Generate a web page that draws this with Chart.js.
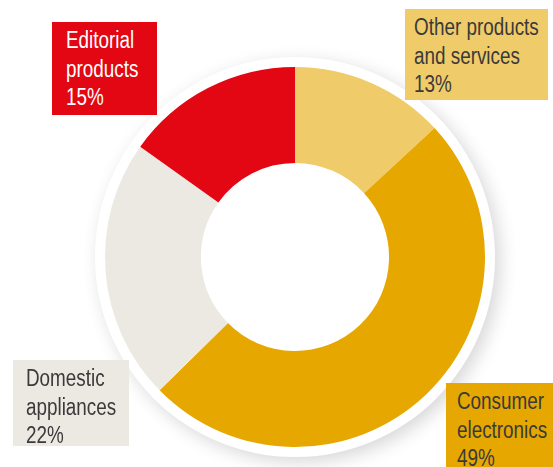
<!DOCTYPE html>
<html>
<head>
<meta charset="utf-8">
<script src="https://cdn.jsdelivr.net/npm/chart.js@4/dist/chart.umd.min.js"></script>
<style>
  html, body { margin: 0; padding: 0; background: #fff; }
  #wrap { position: relative; width: 553px; height: 467px; overflow: hidden; }
  #chart { position: absolute; left: 0; top: 0; }
  .lbl {
    position: absolute;
    box-sizing: border-box;
    font-family: "Liberation Sans", Arial, sans-serif;
    font-size: 23px;
    line-height: 28.5px;
    color: #3d3d3d;
    white-space: nowrap;
  }
  .lbl span {
    display: inline-block;
    transform: scaleX(0.82);
    transform-origin: left top;
  }
</style>
</head>
<body>
<div id="wrap">
  <canvas id="chart" width="553" height="467"></canvas>
</div>
<script>
// Dati del grafico (in senso orario dall'alto)
const categories = ['Other products and services', 'Consumer electronics', 'Domestic appliances', 'Editorial products'];
const shares = [13, 49, 22, 15];
const colors = ['#F0CB69', '#E6A800', '#ECE9E3', '#E30613'];
const labelLines = [
  ['Other products', 'and services', '13%'],
  ['Consumer', 'electronics', '49%'],
  ['Domestic', 'appliances', '22%'],
  ['Editorial', 'products', '15%']
];

// Posizione dei riquadri etichetta
const boxes = [
  { left: 405, top: 9, width: 143, height: 91, color: '#3a3a3a', pad: 9 },
  { left: 446, top: 383, width: 107, height: 84, color: '#3a3a3a', pad: 11 },
  { left: 13, top: 360, width: 116, height: 86, color: '#3a3a3a', pad: 13 },
  { left: 52, top: 22, width: 105, height: 93, color: '#fff', pad: 14 }
];

// Anello bianco con ombra dietro la ciambella
const ringPlugin = {
  id: 'ring',
  beforeDatasetsDraw(chart) {
    const arc = chart.getDatasetMeta(0).data[0];
    if (!arc) return;
    const ctx = chart.ctx;
    ctx.save();
    ctx.beginPath();
    ctx.arc(arc.x, arc.y, arc.outerRadius + 10, 0, Math.PI * 2);
    ctx.fillStyle = '#fff';
    ctx.shadowColor = 'rgba(0,0,0,0.16)';
    ctx.shadowBlur = 18;
    ctx.shadowOffsetX = 5;
    ctx.shadowOffsetY = 5;
    ctx.fill();
    ctx.restore();
  }
};

const ctx = document.getElementById('chart').getContext('2d');
new Chart(ctx, {
  type: 'doughnut',
  data: {
    labels: categories,
    datasets: [{
      data: shares,
      backgroundColor: colors,
      borderWidth: 0,
      hoverOffset: 0
    }]
  },
  options: {
    responsive: false,
    animation: false,
    cutout: '49.5%',
    layout: { padding: { left: 105, right: 68, top: 67, bottom: 20 } },
    plugins: {
      legend: { display: false },
      tooltip: { enabled: false }
    }
  },
  plugins: [ringPlugin]
});

// Riquadri etichetta
const wrap = document.getElementById('wrap');
boxes.forEach(function (b, i) {
  const div = document.createElement('div');
  div.className = 'lbl';
  div.style.left = b.left + 'px';
  div.style.top = b.top + 'px';
  div.style.width = b.width + 'px';
  div.style.height = b.height + 'px';
  div.style.background = colors[i];
  div.style.color = b.color;
  div.style.padding = '4px 0 0 ' + b.pad + 'px';
  div.innerHTML = '<span>' + labelLines[i].join('<br>') + '</span>';
  wrap.appendChild(div);
});
</script>
</body>
</html>
